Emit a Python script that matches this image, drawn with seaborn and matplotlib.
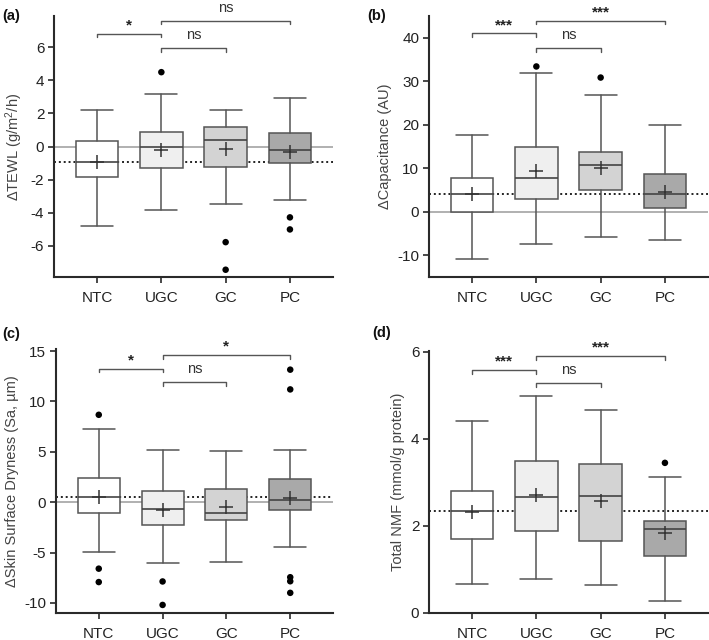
import numpy as np
import pandas as pd
import matplotlib
matplotlib.use("Agg")
import matplotlib.pyplot as plt
import seaborn as sns

# ---------------- data ----------------
groups = ["NTC", "UGC", "GC", "PC"]
box_colors = ["#ffffff", "#efefef", "#d3d3d3", "#a9a9a9"]

# (a) delta TEWL
tewl_lo = [-4.8, -3.83, -3.49, -3.23]
tewl_q1 = [-1.83, -1.29, -1.23, -0.99]
tewl_med = [-0.93, 0.0, 0.42, -0.24]
tewl_q3 = [0.32, 0.87, 1.21, 0.83]
tewl_hi = [2.22, 3.17, 2.2, 2.94]
tewl_mean = [-0.93, -0.22, -0.18, -0.32]
tewl_fliers = [[], [4.5], [-5.79, -7.46], [-4.29, -5.02]]

# (b) delta capacitance
cap_lo = [-10.8, -7.4, -5.85, -6.4]
cap_q1 = [0.0, 3.0, 5.08, 0.92]
cap_med = [4.15, 7.85, 10.85, 4.15]
cap_q3 = [7.7, 15.0, 13.7, 8.6]
cap_hi = [17.6, 32.0, 26.9, 19.9]
cap_mean = [4.0, 9.46, 10.15, 4.5]
cap_fliers = [[], [33.4], [30.85], []]

# (c) delta skin surface dryness
dry_lo = [-4.98, -6.0, -5.94, -4.42]
dry_q1 = [-1.06, -2.22, -1.76, -0.73]
dry_med = [0.53, -0.66, -1.03, 0.17]
dry_q3 = [2.36, 1.06, 1.33, 2.26]
dry_hi = [7.3, 5.18, 5.08, 5.21]
dry_mean = [0.5, -0.73, -0.5, 0.46]
dry_fliers = [[8.67, -6.6, -7.93], [-7.87, -10.2], [], [13.15, 11.19, -7.45, -7.85, -9.0]]

# (d) total NMF
nmf_lo = [0.67, 0.79, 0.65, 0.28]
nmf_q1 = [1.69, 1.88, 1.65, 1.32]
nmf_med = [2.35, 2.67, 2.68, 1.94]
nmf_q3 = [2.8, 3.49, 3.43, 2.11]
nmf_hi = [4.41, 4.98, 4.67, 3.13]
nmf_mean = [2.31, 2.7, 2.58, 1.84]
nmf_fliers = [[], [], [], [3.45]]

# significance brackets: (group i, group j, height, label)
tewl_sig = [(0, 1, 6.83, "*"), (1, 2, 5.96, "ns"), (1, 3, 7.61, "ns")]
cap_sig = [(0, 1, 41.0, "***"), (1, 2, 37.6, "ns"), (1, 3, 43.9, "***")]
dry_sig = [(0, 1, 13.25, "*"), (1, 2, 11.9, "ns"), (1, 3, 14.6, "*")]
nmf_sig = [(0, 1, 5.58, "***"), (1, 2, 5.28, "ns"), (1, 3, 5.9, "***")]

# ---------------- style ----------------
sns.set_style("ticks")
plt.rcParams["font.family"] = ["Liberation Sans", "DejaVu Sans"]
plt.rcParams["mathtext.fontset"] = "custom"
plt.rcParams["mathtext.rm"] = "Liberation Sans"
plt.rcParams["mathtext.it"] = "Liberation Sans:italic"
plt.rcParams["mathtext.bf"] = "Liberation Sans:bold"

fig = plt.figure(figsize=(7.09, 6.4), dpi=100)
W, H = 709, 640


def px_axes(left, top, right, bottom):
    return fig.add_axes([left / W, 1 - bottom / H, (right - left) / W, (bottom - top) / H])


panels = [
    dict(ax=px_axes(54, 16, 333, 277), lo=tewl_lo, q1=tewl_q1, med=tewl_med, q3=tewl_q3, hi=tewl_hi,
         mean=tewl_mean, fliers=tewl_fliers, sig=tewl_sig, ylim=(-7.9, 7.9), yticks=[-6, -4, -2, 0, 2, 4, 6],
         ylabel=r"$\Delta$TEWL (g/m$^2$/h)", zero=True, ref=tewl_med[0], letter="(a)", lpos=(2, 16)),
    dict(ax=px_axes(429, 16, 708, 277), lo=cap_lo, q1=cap_q1, med=cap_med, q3=cap_q3, hi=cap_hi,
         mean=cap_mean, fliers=cap_fliers, sig=cap_sig, ylim=(-15, 45), yticks=[-10, 0, 10, 20, 30, 40],
         ylabel="ΔCapacitance (AU)", zero=True, ref=cap_med[0], letter="(b)", lpos=(367, 16)),
    dict(ax=px_axes(56, 349, 333, 613), lo=dry_lo, q1=dry_q1, med=dry_med, q3=dry_q3, hi=dry_hi,
         mean=dry_mean, fliers=dry_fliers, sig=dry_sig, ylim=(-11, 15.2), yticks=[-10, -5, 0, 5, 10, 15],
         ylabel="ΔSkin Surface Dryness (Sa, µm)", zero=True, ref=dry_med[0], letter="(c)", lpos=(2, 334)),
    dict(ax=px_axes(429, 351, 708, 613), lo=nmf_lo, q1=nmf_q1, med=nmf_med, q3=nmf_q3, hi=nmf_hi,
         mean=nmf_mean, fliers=nmf_fliers, sig=nmf_sig, ylim=(0, 6.02), yticks=[0, 2, 4, 6],
         ylabel="Total NMF (mmol/g protein)", zero=False, ref=nmf_med[0], letter="(d)", lpos=(372, 333)),
]

edge = "#555555"
spine_c = "#2a2a2a"

for p in panels:
    ax = p["ax"]
    pos = list(range(len(groups)))
    stats = [dict(whislo=p["lo"][i], q1=p["q1"][i], med=p["med"][i], q3=p["q3"][i],
                  whishi=p["hi"][i], fliers=[], label=groups[i]) for i in pos]

    if p["zero"]:
        ax.axhline(0, color="#b0b0b0", lw=1.4, zorder=1)
    ax.axhline(p["ref"], color="#222222", lw=1.4, ls=(0, (1, 1.5)), zorder=1)

    bp = ax.bxp(stats, positions=pos, widths=0.66, capwidths=0.5, patch_artist=True,
                showfliers=False, manage_ticks=False,
                boxprops=dict(edgecolor=edge, linewidth=1.1),
                medianprops=dict(color="#444444", linewidth=1.2),
                whiskerprops=dict(color=edge, linewidth=1.1),
                capprops=dict(color=edge, linewidth=1.1))
    for patch, c in zip(bp["boxes"], box_colors):
        patch.set_facecolor(c)
        patch.set_zorder(2)
    for k in ("medians", "whiskers", "caps"):
        for ln in bp[k]:
            ln.set_zorder(2.5)

    # means (+) and outliers
    mdf = pd.DataFrame({"x": pos, "y": p["mean"]})
    sns.scatterplot(data=mdf, x="x", y="y", marker="+", s=90, color="#333333",
                    linewidth=1.1, ax=ax, zorder=4)
    fx, fy = [], []
    for i, fl in enumerate(p["fliers"]):
        for v in fl:
            fx.append(i)
            fy.append(v)
    if fx:
        fdf = pd.DataFrame({"x": fx, "y": fy})
        sns.scatterplot(data=fdf, x="x", y="y", color="black", s=22, edgecolor="none",
                        ax=ax, zorder=4, clip_on=False)

    # significance brackets
    y0, y1 = p["ylim"]
    tick = (y1 - y0) * 3.5 / 261
    for (i, j, h, lab) in p["sig"]:
        ax.plot([i, i, j, j], [h - tick, h, h, h - tick], color=edge, lw=1.0,
                clip_on=False, zorder=3)
        if lab == "ns":
            ax.annotate(lab, xy=((i + j) / 2, h), xytext=(0, 6.5), textcoords="offset points",
                        ha="center", va="baseline", fontsize=10.5, color="#333333",
                        annotation_clip=False)
        else:
            ax.annotate(lab, xy=((i + j) / 2, h), xytext=(0, 6.0), textcoords="offset points",
                        ha="center", va="center", fontsize=11, fontweight="bold",
                        color="#222222", annotation_clip=False)

    ax.set_xlim(-0.67, 3.67)
    ax.set_ylim(*p["ylim"])
    ax.set_yticks(p["yticks"])
    ax.set_yticklabels([str(t) for t in p["yticks"]])
    ax.set_xticks(pos)
    ax.set_xticklabels(groups)
    ax.set_xlabel("")
    ax.set_ylabel(p["ylabel"], fontsize=10.5, color="#444444", labelpad=4)
    ax.tick_params(axis="both", direction="out", length=4, width=1.2, color=spine_c,
                   labelsize=11, labelcolor="#222222", pad=3)
    ax.tick_params(axis="x", pad=6)
    sns.despine(ax=ax)
    for s in ("left", "bottom"):
        ax.spines[s].set_linewidth(1.5)
        ax.spines[s].set_color(spine_c)

    fig.text(p["lpos"][0] / W, 1 - p["lpos"][1] / H, p["letter"], fontsize=10.5,
             fontweight="bold", ha="left", va="center", color="#111111")

fig.savefig("out.png", dpi=100)
